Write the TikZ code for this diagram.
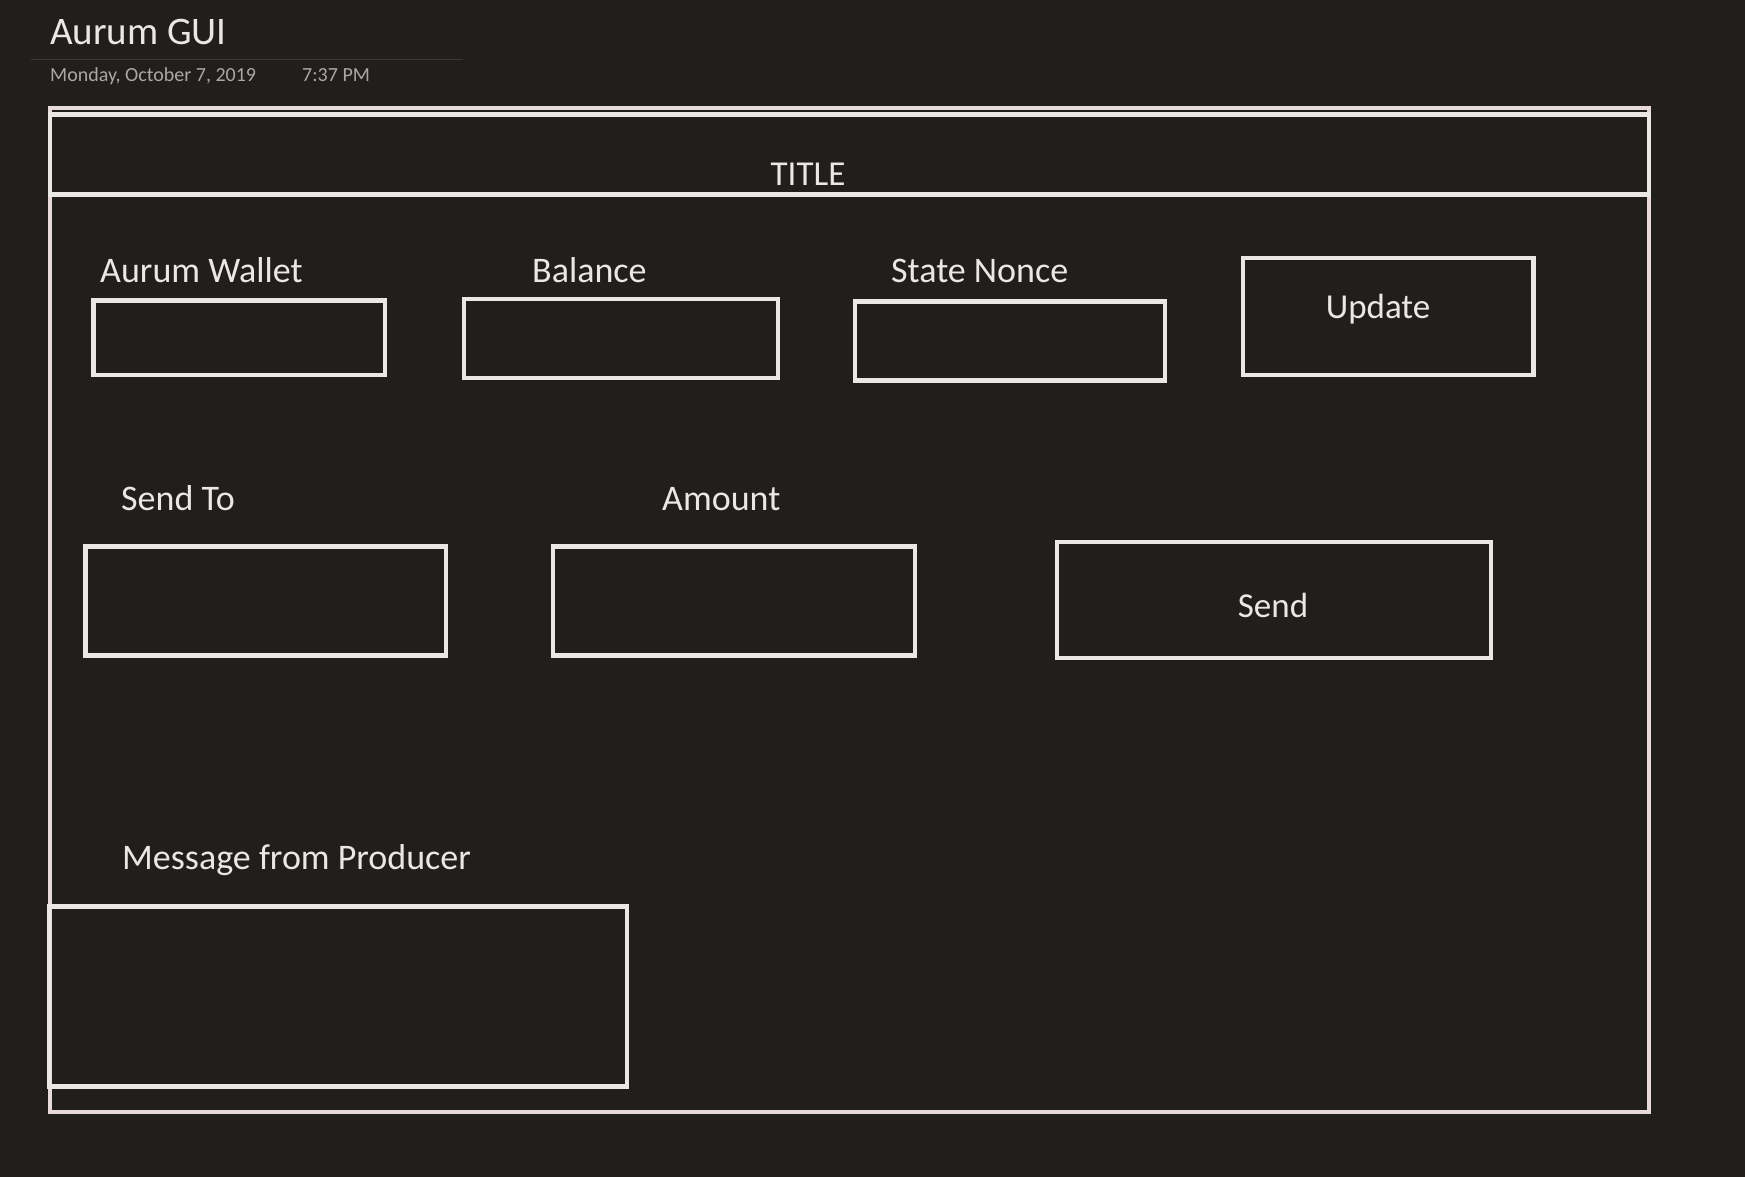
\documentclass[tikz,border=0pt]{standalone}
\usepackage{fontspec}
\setmainfont{Carlito}
\usetikzlibrary{positioning}
\definecolor{bgdark}{HTML}{201F1D}
\definecolor{chalk}{HTML}{EAE8E5}
\definecolor{rosechalk}{HTML}{E8DADA}
\definecolor{dategray}{HTML}{ABA8A4}
\definecolor{rulegray}{HTML}{3A3937}
\tikzset{
  field/.style={draw=chalk,line width=4.5pt},
  lbl/.style={anchor=base west,text=chalk,inner sep=0pt,font=\fontsize{36}{40}\selectfont},
  btnlbl/.style={anchor=base,text=chalk,inner sep=0pt,font=\fontsize{35}{40}\selectfont}
}
\begin{document}
\begin{tikzpicture}[x=1pt,y=-1pt]
  \fill[bgdark] (0,0) rectangle (1745,1177);
  \useasboundingbox (0,0) rectangle (1745,1177);
  % page header
  \node[anchor=base west,text=chalk,inner sep=0pt,font=\fontsize{39}{44}\selectfont] (pagetitle) at (50,45) {Aurum GUI};
  \draw[rulegray,line width=1pt] (31,59.5) -- (463,59.5);
  \node[anchor=base west,text=dategray,inner sep=0pt,font=\fontsize{20}{24}\selectfont] (pagedate) at (50,82) {Monday, October 7, 2019};
  \node[anchor=base west,text=dategray,inner sep=0pt,font=\fontsize{20}{24}\selectfont] (pagetime) at (302,82) {7:37 PM};
  % window frame and title bar
  \draw[rosechalk,line width=4.5pt] (50,108) rectangle (1649,1112);
  \draw[field] (50,114.5) rectangle (1649,194.5);
  \node[btnlbl] (title) at (808,186) {TITLE};
  % first row
  \node[lbl] (wallet) at (100,282) {Aurum Wallet};
  \node[lbl] (balance) at (532,282) {Balance};
  \node[lbl] (nonce) at (891,282) {State Nonce};
  \foreach \xa/\ya/\xb/\yb in {93.5/300.5/385/375,464/299/778/378,855/301.5/1165/380.5}{
    \draw[field] (\xa,\ya) rectangle (\xb,\yb);
  }
  \draw[field] (1243,258) rectangle (1533.5,375);
  \node[btnlbl] (update) at (1378,318) {Update};
  % second row
  \node[lbl] (sendto) at (121,510) {Send To};
  \node[lbl] (amount) at (662,510) {Amount};
  \foreach \xa/\ya/\xb/\yb in {85.5/546.5/446/655.5,553/546.5/915/655.5}{
    \draw[field] (\xa,\ya) rectangle (\xb,\yb);
  }
  \draw[field] (1057,542) rectangle (1491,658);
  \node[btnlbl] (send) at (1273,617.5) {Send};
  % producer message
  \node[lbl] (message) at (122,869) {Message from Producer};
  \draw[field] (49,906.5) rectangle (627,1086.5);
\end{tikzpicture}
\end{document}
